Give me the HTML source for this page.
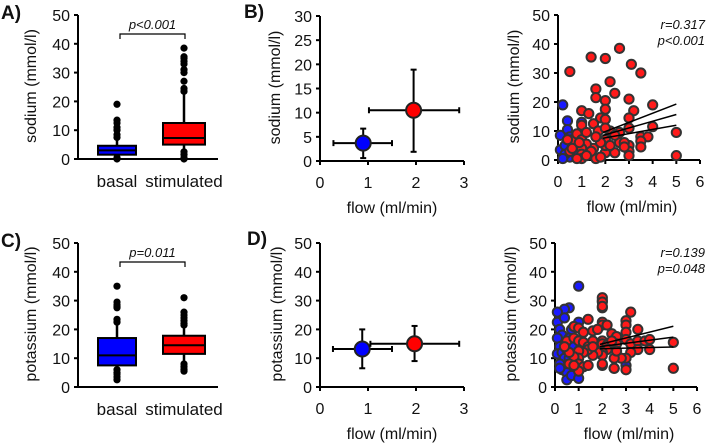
<!DOCTYPE html>
<html><head><meta charset="utf-8"><style>
html,body{margin:0;padding:0;background:#fff;}
svg{display:block;font-family:"Liberation Sans",Arial,sans-serif;}
.tk{font-size:16px;fill:#111;}
.tt{font-size:16px;fill:#111;}
.ct{font-size:17px;fill:#111;}
.pl{font-size:19px;font-weight:bold;fill:#111;}
.st{font-size:13px;font-style:italic;fill:#111;}
</style></head><body>
<svg id="fig" width="708" height="444" viewBox="0 0 708 444" xmlns="http://www.w3.org/2000/svg"></svg>
<script>
// ---- data ----
const boxCategories = ["basal","stimulated"];
// [whiskerLow, q1, median, q3, whiskerHigh]
const sodiumBoxBasal = [0.3,1.5,3,4.6,7];
const sodiumBoxStim = [2.5,5,7.3,12.5,23];
const sodiumOutBasal = [19,13.5,12.5,11,10,8.5,7.5,0,0.5];
const sodiumOutStim = [38.5,35.5,35,34,33,31,30,27,24.5,23.5,2.5,1.5,0.5,0];
const potassiumBoxBasal = [6,7.5,11,17,22];
const potassiumBoxStim = [8,11.5,14.5,17.8,21];
const potassiumOutBasal = [35,29.5,28.5,28,27.5,23.5,22.5,6,5,4.5,3.5,2.5];
const potassiumOutStim = [31,26,25,24,23,22,21.5,8,7,6,5.5];
const boxTicks = [0,10,20,30,40,50];
// mean panels: [x, y, xLow, xHigh, yLow, yHigh]
const sodiumMeanBasal = [0.9,3.7,0.28,1.5,0.6,6.7];
const sodiumMeanStim = [1.95,10.5,1.02,2.9,1.9,18.9];
const potassiumMeanBasal = [0.88,13.2,0.27,1.5,6.5,20];
const potassiumMeanStim = [1.97,15,1.05,2.9,9,21.2];
const meanXTicks = [0,1,2,3];
const sodiumMeanYTicks = [0,5,10,15,20,25,30];
const potassiumMeanYTicks = [0,10,20,30,40,50];
const scatterXTicks = [0,1,2,3,4,5,6];
const scatterYTicks = [0,10,20,30,40,50];
const naRedX = [0.5,1.4,2,2.6,3.1,3.5,2.2,1.6,1.6,2.4,2,3,3.2,4,1,1.3,2,1.8,2,3,1,0.6,0.8,1,1.2,1.5,1.7,2.2,2.6,3,3.5,4,3.8,3.5,3.5,5,5,3,3,3,2.4,2.6,2.8,2,2,2,1.6,1.5,1.2,1,1,1,0.8,0.5,1.4,1.8,2.2,0.4,0.6,1.8,1.2,2.4,1.6,0.9,2,2.8];
const naRedY = [30.5,35.5,35,38.5,33,30,27,24.5,21.5,23,20.5,21,17,19,17,16,17.5,14.5,14,14.5,12,7,9,7,9.5,12.5,10,10,9.5,11,8,11.5,8,6.5,4.5,9.5,1.5,5,3,1.5,2.5,6,6,2.5,5,7,0.5,4,5.5,4,2,0.5,0.5,3,3,6,5,7,4,1,1.5,8.5,8,6,11,4.5];
const naBlueX = [0.2,0.4,0.1,0.1,0.3,0.5,0.3,0.6,0.7,1,0.8,0.4,1.2,1.4,0.2,0.6,0.5,0.9];
const naBlueY = [19,13.5,8.5,3.5,5,1,2,4.5,2.5,13,7,10.5,3,2,0.5,6.5,8,4.5];
const kRedX = [2,2,2,3.2,1.4,2,2,2.2,3,3,0.8,1,1.2,1.6,1.8,2.4,2.6,3,3.5,0.5,0.8,1,1.2,1.4,1.6,2,2,2.2,2.6,3,3.2,3.5,3.8,4,5,5,4,3.5,3.2,3,2.8,2.5,2.6,2.2,2,2,1.8,1.6,1.4,1.2,1,1,0.8,0.6,1,1.2,1.4,1,0.8,0.6,3,2.5,2,1.6,0.4,2.4];
const kRedY = [31,29.5,28,26,23.5,22.5,21.5,21.5,23,21.5,21,20.5,19,19.5,20,18.5,17.5,19,20,16,17,16,15.5,14,16,16,15,14.5,15,16.5,15,16,16,16.5,15.5,6.5,13,13,12,10,10,10,12.5,13,12,11,12,11,13,12,12.5,10,10.5,8,8,7,7.5,5.5,7.5,12,6,6.5,8,14,14,16];
const kBlueX = [1,2,2,0.6,0.4,0.1,0.1,0.2,0.4,0.3,1,0.1,0.2,0.1,0.3,0.5,0.4,0.2,0.3,0.5,0.5,0.7,1,0.6,0.8,2,2.5,3,0.2,0.6,0.7];
const kBlueY = [35,30,27.5,27.5,27,26,22.5,20,24,18,22.5,17,14,11.5,12,13,10,8,6,5,2.5,4,3,10,14,7.5,6.5,7.5,6.5,17,20];
// regression lines: [x0, y0, x1, y1] for upper, fit, lower
const naFit = [[1.9,9.5,5,19.3],[1.9,8.5,5,15.7],[1.9,7.5,5,12]];
const kFit = [[1.9,14.8,5,21.1],[1.9,14,5,17.3],[1.9,13.3,5,13.9]];

// ---- drawing ----
const NS="http://www.w3.org/2000/svg";
const svg=document.getElementById('fig');
function mk(tag,attrs,parent,txt){const e=document.createElementNS(NS,tag);for(const k in attrs)e.setAttribute(k,attrs[k]);if(txt!==undefined)e.textContent=txt;(parent||svg).appendChild(e);return e;}
function lin(d0,d1,r0,r1){return v=>r0+(v-d0)*(r1-r0)/(d1-d0);}

function axes(g,x0,yBot,yTop,xEnd,ys,yticks,xs,xticks,ytitle,ytx,yty,xtitle,xtx,xty,name){
  let a=mk('line',{x1:x0,y1:yTop,x2:x0,y2:yBot+1,stroke:'#000','stroke-width':2},g);
  
  a=mk('line',{x1:x0-1,y1:yBot,x2:xEnd,y2:yBot,stroke:'#000','stroke-width':2},g);
  
  yticks.forEach(v=>{const y=ys(v);
    mk('line',{x1:x0-4,y1:y,x2:x0,y2:y,stroke:'#000','stroke-width':2},g);
    const t=mk('text',{x:x0-8,y:y+6,'text-anchor':'end',class:'tk'},g,String(v));
    });
  if(xticks){xticks.forEach(v=>{const x=xs(v);
    mk('line',{x1:x,y1:yBot,x2:x,y2:yBot+4,stroke:'#000','stroke-width':2},g);
    const t=mk('text',{x:x,y:yBot+27,'text-anchor':'middle',class:'tk'},g,String(v));
    });}
  let t=mk('text',{x:ytx,y:yty,'text-anchor':'middle',class:'tt',transform:`rotate(-90 ${ytx} ${yty})`},g,ytitle);
  
  if(xtitle){t=mk('text',{x:xtx,y:xty,'text-anchor':'middle',class:'tt'},g,xtitle);
    }
}

function boxPanel(name,label,yTop,yBot,ytitle,boxes,outs,ptxt){
  const g=mk('g',{});
  const ys=lin(0,50,yBot,yTop);
  const xc=i=>117+67*i;
  axes(g,78,yBot,yTop,218,ys,boxTicks,null,null,ytitle,36,(yTop+yBot)/2-1,null,0,0,name);
  const cols=['#0000ff','#ff0000'];
  boxCategories.forEach((c,i)=>{
    const b=boxes[i],x=xc(i),hw=i?21:19;
    mk('line',{x1:x,y1:ys(b[0]),x2:x,y2:ys(b[4]),stroke:'#000','stroke-width':2.5},g);
    const r=mk('rect',{x:x-hw,y:ys(b[3]),width:2*hw,height:ys(b[1])-ys(b[3]),fill:cols[i],stroke:'#000','stroke-width':2},g);
    
    mk('line',{x1:x-hw,y1:ys(b[2]),x2:x+hw,y2:ys(b[2]),stroke:'#000','stroke-width':2},g);
    outs[i].forEach(v=>{const o=mk('circle',{cx:x,cy:ys(v),r:3.6,fill:'#000'},g);
      });
    const t=mk('text',{x:x,y:yBot+28,'text-anchor':'middle',class:'ct'},g,c);
    
  });
  const by=yTop+19;
  mk('path',{d:`M${xc(0)+3} ${by+5}V${by}H${xc(1)+1}V${by+5}`,fill:'none',stroke:'#000','stroke-width':1.2},g);
  let t=mk('text',{x:(xc(0)+xc(1))/2+2,y:by-5,'text-anchor':'middle',class:'st'},g,ptxt);
  
  t=mk('text',{x:1,y:yTop+4,class:'pl'},g,label);
  
}

function meanPanel(name,label,labelX,yTop,yBot,ymax,yticks,ytitle,ytx,pts){
  const g=mk('g',{});
  const ys=lin(0,ymax,yBot,yTop), xs=lin(0,3,320,464);
  axes(g,320,yBot,yTop,464,ys,yticks,xs,meanXTicks,ytitle,ytx,(yTop+yBot)/2-1,'flow (ml/min)',392,yBot+52,name);
  const cols=['#0000ff','#ff0000'];
  pts.forEach((p,i)=>{
    const x=xs(p[0]),y=ys(p[1]);
    mk('line',{x1:xs(p[2]),y1:y,x2:xs(p[3]),y2:y,stroke:'#000','stroke-width':2},g);
    mk('line',{x1:x,y1:ys(p[4]),x2:x,y2:ys(p[5]),stroke:'#000','stroke-width':2},g);
    [[xs(p[2]),y,0],[xs(p[3]),y,0],[x,ys(p[4]),1],[x,ys(p[5]),1]].forEach(c=>{
      if(c[2])mk('line',{x1:c[0]-3,y1:c[1],x2:c[0]+3,y2:c[1],stroke:'#000','stroke-width':2},g);
      else mk('line',{x1:c[0],y1:c[1]-3,x2:c[0],y2:c[1]+3,stroke:'#000','stroke-width':2},g);});
    const m=mk('circle',{cx:x,cy:y,r:7.5,fill:cols[i],stroke:'#222','stroke-width':2},g);
    
  });
  const t=mk('text',{x:labelX,y:yTop+2,class:'pl'},g,label);
  
}

function scatterPanel(name,x0,yTop,yBot,ytitle,ytx,bx,by,rx,ry,fit,rtxt,ptxt){
  const g=mk('g',{});
  const ys=lin(0,50,yBot,yTop), xs=lin(0,6,x0,x0+142);
  axes(g,x0,yBot,yTop,x0+142,ys,scatterYTicks,xs,scatterXTicks,ytitle,ytx,(yTop+yBot)/2-1,'flow (ml/min)',x0+74,yBot+52,name);
  bx.forEach((v,i)=>{const c=mk('circle',{cx:xs(v),cy:ys(by[i]),r:4.6,fill:'#1a1aff',stroke:'#333','stroke-width':2},g);
    });
  rx.forEach((v,i)=>{const c=mk('circle',{cx:xs(v),cy:ys(ry[i]),r:4.6,fill:'#ff1a1a',stroke:'#333','stroke-width':2},g);
    });
  fit.forEach((f,i)=>{const l=mk('line',{x1:xs(f[0]),y1:ys(f[1]),x2:xs(f[2]),y2:ys(f[3]),stroke:'#000','stroke-width':1.5},g);
    });
  let t=mk('text',{x:705,y:yTop+14,'text-anchor':'end',class:'st'},g,rtxt);
  
  t=mk('text',{x:705,y:yTop+30,'text-anchor':'end',class:'st'},g,ptxt);
  
}

boxPanel('panel-a-sodium-box','A)',15,159,'sodium (mmol/l)',[sodiumBoxBasal,sodiumBoxStim],[sodiumOutBasal,sodiumOutStim],'p<0.001');
boxPanel('panel-c-potassium-box','C)',243,387,'potassium (mmol/l)',[potassiumBoxBasal,potassiumBoxStim],[potassiumOutBasal,potassiumOutStim],'p=0.011');
meanPanel('panel-b-sodium-mean','B)',244,16,161,30,sodiumMeanYTicks,'sodium (mmol/l)',280,[sodiumMeanBasal,sodiumMeanStim]);
meanPanel('panel-d-potassium-mean','D)',247,243,387,50,potassiumMeanYTicks,'potassium (mmol/l)',282,[potassiumMeanBasal,potassiumMeanStim]);
scatterPanel('panel-sodium-scatter',558,15,160,'sodium (mmol/l)',519,naBlueX,naBlueY,naRedX,naRedY,naFit,'r=0.317','p<0.001');
scatterPanel('panel-potassium-scatter',555,243,387,'potassium (mmol/l)',516,kBlueX,kBlueY,kRedX,kRedY,kFit,'r=0.139','p=0.048');
</script>
</body></html>
